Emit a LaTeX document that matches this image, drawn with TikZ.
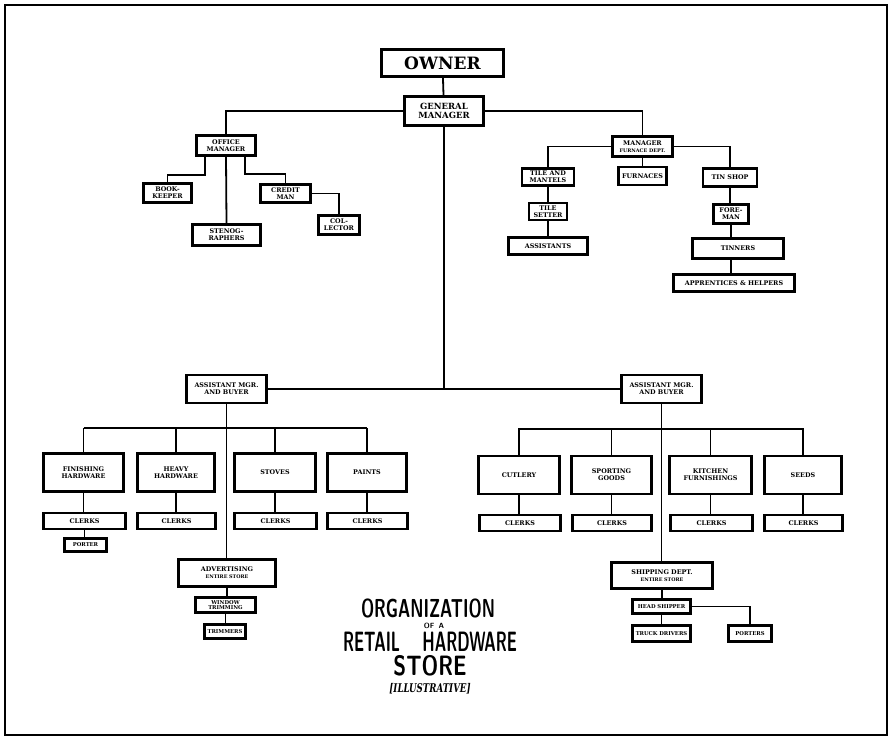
\documentclass[tikz,border=0pt]{standalone}
\usepackage{fontspec}
\usepackage{graphicx}
\usepackage{tikz}
\usetikzlibrary{positioning}
\newfontfamily\boxfont{DejaVu Serif}

\begin{document}
\begin{tikzpicture}[
    x=1pt, y=-1pt,
    bx/.style={draw, line width=2.4pt, fill=white, align=center, inner sep=1pt,
      font=\boxfont\bfseries\fontsize{6.4}{6.9}\selectfont},
    sm/.style={font=\boxfont\bfseries\fontsize{5.3}{5.8}\selectfont},
    ln/.style={line width=1.8pt},
    dept/.style={bx, minimum height=38pt},
    clk/.style={bx, minimum height=16pt},
    ttl/.style={anchor=base, inner sep=0pt},
  ]
    \useasboundingbox (0,0) rectangle (890,738);
    \draw[line width=2.4pt] (5,5) rectangle (887,735);

    % Top
    \node[bx, font=\boxfont\bfseries\fontsize{17}{17}\selectfont, minimum width=122pt, minimum height=27pt] (owner) at (442.5,63) {OWNER};
    \node[bx, font=\boxfont\bfseries\fontsize{8.5}{9}\selectfont, minimum width=79pt, minimum height=29pt] (gm) at (444,111) {GENERAL\\MANAGER};

    % Office side
    \node[bx, minimum width=59pt, minimum height=20pt] (om) at (226,145.5) {OFFICE\\MANAGER};
    \node[bx, minimum width=48pt, minimum height=19pt] (bk) at (167.5,193) {BOOK-\\KEEPER};
    \node[bx, minimum width=68pt, minimum height=21pt] (steno) at (226.5,235) {STENOG-\\RAPHERS};
    \node[bx, minimum width=50pt, minimum height=18pt] (credit) at (285.5,193.5) {CREDIT\\MAN};
    \node[bx, minimum width=41pt, minimum height=19pt] (coll) at (339,225) {COL-\\LECTOR};

    % Furnace side
    \node[bx, minimum width=60pt, minimum height=20pt] (mfd) at (642.5,146.5) {MANAGER\\{\fontsize{4.9}{5.4}\selectfont FURNACE DEPT.}};
    \node[bx, minimum width=52pt, minimum height=17pt] (tile) at (548,177) {TILE AND\\MANTELS};
    \node[bx, minimum width=48pt, minimum height=18pt, below=8pt of mfd] (furn) {FURNACES};
    \node[bx, minimum width=54pt, minimum height=18pt] (tin) at (730,177.5) {TIN SHOP};
    \node[bx, minimum width=38pt, minimum height=17pt, below=15pt of tile] (ts) {TILE\\SETTER};
    \node[bx, minimum width=79pt, minimum height=17pt, below=15pt of ts] (asst) {ASSISTANTS};
    \node[bx, minimum width=35pt, minimum height=19pt] (fore) at (731,214) {FORE-\\MAN};
    \node[bx, minimum width=91pt, minimum height=20pt] (tinners) at (738,248.5) {TINNERS};
    \node[bx, minimum width=121pt, minimum height=17pt] (app) at (734,283) {APPRENTICES \& HELPERS};

    % Assistant managers
    \node[bx, minimum width=80pt, minimum height=28pt] (amL) at (226.5,389) {ASSISTANT MGR.\\AND BUYER};
    \node[bx, minimum width=80pt, minimum height=28pt] (amR) at (661.5,389) {ASSISTANT MGR.\\AND BUYER};

    % Left departments
    \node[dept, minimum width=80pt] (fh) at (83.5,472.5) {FINISHING\\HARDWARE};
    \node[dept, minimum width=77pt] (hh) at (176,472.5) {HEAVY\\HARDWARE};
    \node[dept, minimum width=81pt] (st) at (275,472.5) {STOVES};
    \node[dept, minimum width=79pt] (pa) at (367,472.5) {PAINTS};
    \node[clk, minimum width=82pt] (cfh) at (84.5,521) {CLERKS};
    \node[clk, minimum width=78pt] (chh) at (176.5,521) {CLERKS};
    \node[clk, minimum width=82pt] (cst) at (275.5,521) {CLERKS};
    \node[clk, minimum width=80pt] (cpa) at (367.5,521) {CLERKS};
    \node[bx, sm, minimum width=42pt, minimum height=13pt] (porter) at (85.5,545) {PORTER};

    % Right departments
    \node[dept, minimum width=81pt] (cut) at (519,475) {CUTLERY};
    \node[dept, minimum width=80pt] (spg) at (611.5,475) {SPORTING\\GOODS};
    \node[dept, minimum width=82pt] (kit) at (710.5,475) {KITCHEN\\FURNISHINGS};
    \node[dept, minimum width=77pt] (seeds) at (803,475) {SEEDS};
    \node[clk, minimum width=81pt] (ccut) at (520,523) {CLERKS};
    \node[clk, minimum width=79pt] (cspg) at (612,523) {CLERKS};
    \node[clk, minimum width=82pt] (ckit) at (711.5,523) {CLERKS};
    \node[clk, minimum width=78pt] (cseeds) at (803.5,523) {CLERKS};

    % Advertising and shipping
    \node[bx, minimum width=97pt, minimum height=27pt] (adv) at (227,573) {ADVERTISING\\{\fontsize{4.9}{5.4}\selectfont ENTIRE STORE}};
    \node[bx, sm, minimum width=60pt, minimum height=15pt] (wt) at (225.5,605) {WINDOW\\TRIMMING};
    \node[bx, sm, minimum width=41pt, minimum height=14pt] (trim) at (225,631.5) {TRIMMERS};
    \node[bx, minimum width=101pt, minimum height=26pt] (ship) at (662,575.5) {SHIPPING DEPT.\\{\fontsize{4.9}{5.4}\selectfont ENTIRE STORE}};
    \node[bx, sm, minimum width=58pt, minimum height=14pt] (hs) at (661.5,606.5) {HEAD SHIPPER};
    \node[bx, sm, minimum width=58pt, minimum height=16pt] (td) at (661.5,633.5) {TRUCK DRIVERS};
    \node[bx, sm, minimum width=43pt, minimum height=16pt] (port) at (750,633.5) {PORTERS};

    % Title
    \node[ttl] (tOrg) at (428,617) {\scalebox{0.64}[1]{\fontsize{26}{26}\selectfont\sffamily\bfseries ORGANIZATION}};
    \node[ttl] (tOfa) at (434,628.5) {\fontsize{7.5}{7.5}\selectfont\sffamily\bfseries OF\ \,A};
    \node[ttl] (tRet) at (430,651) {\scalebox{0.56}[1]{\fontsize{28}{28}\selectfont\sffamily\bfseries RETAIL\hspace{40pt}HARDWARE}};
    \node[ttl] (tSto) at (430,675) {\scalebox{0.75}[1]{\fontsize{28}{28}\selectfont\sffamily\bfseries STORE}};
    \node[ttl] (tIll) at (430,692) {\scalebox{0.72}[1]{\boxfont\fontsize{12}{12}\selectfont\bfseries\itshape [ILLUSTRATIVE]}};

    % Connectors
    \draw[ln] (owner) -- (gm);
    \draw[ln] (gm.west) -| (om.north);
    \draw[ln] (gm.east) -| (mfd.north);
    \draw[ln] (gm.south) -- (gm.south |- amL.east);
    \draw[ln] (amL.east) -- (amR.west);

    \draw[ln] ([xshift=-21pt]om.south) -- ++(0,18) -| (bk.north);
    \draw[ln] (om.south) -- (steno.north);
    \draw[ln] ([xshift=19pt]om.south) -- ++(0,17) -| (credit.north);
    \draw[ln] (credit.east) -| (coll.north);

    \draw[ln] (mfd.west) -| (tile.north);
    \draw[ln] (mfd) -- (furn);
    \draw[ln] (mfd.east) -| (tin.north);
    \draw[ln] (tile) -- (ts);
    \draw[ln] (ts) -- (asst);
    \draw[ln] (tin.south) -- (tin.south |- fore.north);
    \draw[ln] (fore.south) -- (fore.south |- tinners.north);
    \draw[ln] (fore.south |- tinners.south) -- (fore.south |- app.north);

    \coordinate (barL) at (0,428);
    \coordinate (barR) at (0,429);
    \draw[ln] (fh.north |- barL) -- (pa.north |- barL);
    \draw[ln] (cut.north |- barR) -- (seeds.north |- barR);
    \foreach \d in {fh,hh,st,pa,cut,spg,kit,seeds} {
      \draw[ln] (\d.north) -- (\d.north |- barL);
      \draw[ln] (\d.south) -- (\d.south |- c\d.north);
    }
    \draw[ln] (cfh.south) -- (cfh.south |- porter.north);

    \draw[ln] (amL.south) -- (amL.south |- adv.north);
    \draw[ln] (adv.south) -- (adv.south |- wt.north);
    \draw[ln] (wt.south) -- (wt.south |- trim.north);
    \draw[ln] (amR.south) -- (amR.south |- ship.north);
    \draw[ln] (ship.south) -- (ship.south |- hs.north);
    \draw[ln] (hs) -- (td);
    \draw[ln] (hs.east) -| (port.north);
  \end{tikzpicture}
\end{document}
